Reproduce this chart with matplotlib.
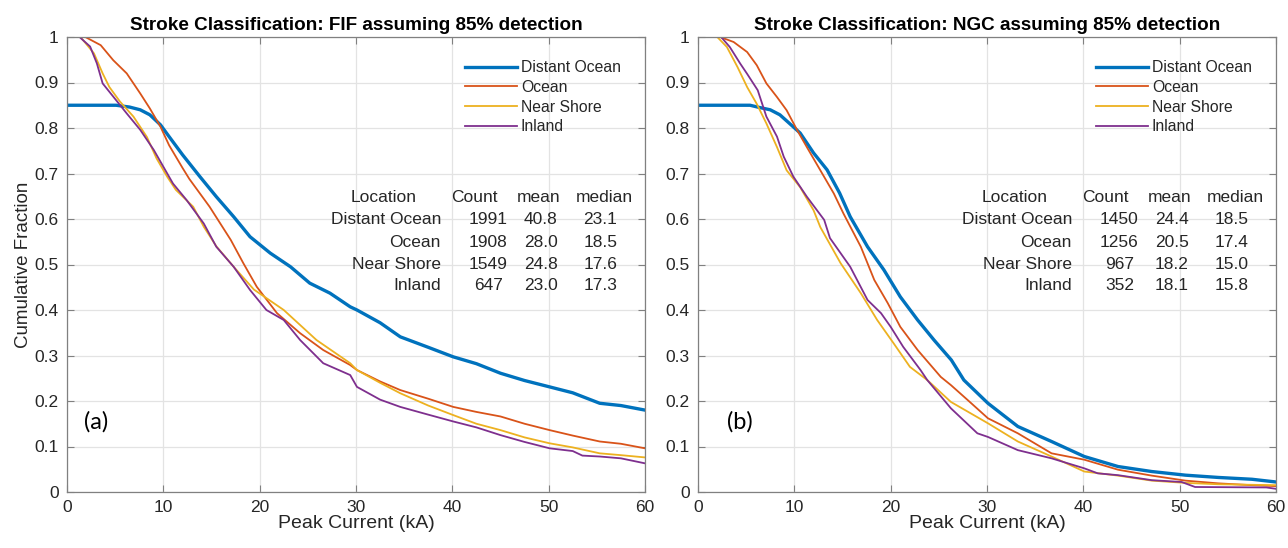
import matplotlib
matplotlib.use("Agg")
import matplotlib.pyplot as plt

plt.rcParams['font.family'] = ['Liberation Sans', 'DejaVu Sans']

series_names = ["Distant Ocean", "Ocean", "Near Shore", "Inland"]
series_colors = ["#0072BD", "#D95319", "#EDB120", "#7E2F8E"]
series_widths = [2.4, 1.3, 1.3, 1.3]

# ---- Panel (a): FIF ----
fif_do_x = [0, 5.1, 6.5, 7.6, 8.6, 9.7, 10.6, 12.0, 13.8, 15.5, 17.3, 19.0, 21.1, 23.2, 25.2, 27.3, 29.4,
            30.1, 32.5, 34.6, 37.5, 40.1, 42.5, 45.0, 47.5, 50.1, 52.5, 55.3, 57.5, 60]
fif_do_y = [0.85, 0.85, 0.846, 0.84, 0.829, 0.807, 0.781, 0.741, 0.693, 0.649, 0.605, 0.561, 0.525, 0.495, 0.459, 0.437, 0.407,
            0.40, 0.372, 0.341, 0.318, 0.297, 0.282, 0.261, 0.245, 0.231, 0.218, 0.195, 0.190, 0.18]

fif_oc_x = [0, 1.9, 3.5, 4.8, 6.2, 7.6, 8.6, 9.7, 10.6, 12.0, 12.7, 14.8, 17.0, 18.3, 19.7, 21.8, 24.2, 26.6, 29.4,
            30.1, 32.5, 34.6, 37.5, 40.1, 42.5, 45.0, 47.5, 50.1, 52.5, 55.3, 57.5, 60]
fif_oc_y = [1.0, 1.0, 0.982, 0.949, 0.92, 0.876, 0.843, 0.803, 0.762, 0.712, 0.688, 0.627, 0.554, 0.503, 0.451, 0.393, 0.349, 0.312, 0.279,
            0.268, 0.243, 0.224, 0.205, 0.187, 0.176, 0.166, 0.150, 0.136, 0.124, 0.111, 0.106, 0.096]

fif_ns_x = [0, 1.4, 2.8, 3.7, 4.4, 5.5, 6.9, 8.3, 9.3, 10.4, 11.3, 13.1, 14.2, 15.5, 17.3, 19.4, 22.5, 25.9, 29.4,
            30.1, 32.5, 34.6, 37.5, 40.1, 42.5, 45.0, 47.5, 50.1, 52.5, 55.3, 57.5, 60]
fif_ns_y = [1.0, 1.0, 0.964, 0.92, 0.89, 0.858, 0.825, 0.78, 0.733, 0.693, 0.664, 0.627, 0.583, 0.54, 0.495, 0.445, 0.40, 0.334, 0.283,
            0.268, 0.240, 0.217, 0.190, 0.169, 0.150, 0.136, 0.120, 0.107, 0.098, 0.085, 0.081, 0.076]

fif_in_x = [0, 1.3, 2.4, 3.1, 3.7, 4.8, 6.2, 7.6, 9.0, 10.0, 11.0, 12.4, 14.2, 15.5, 17.3, 19.0, 20.7, 22.5, 24.2, 26.6, 29.4,
            30.1, 32.5, 34.6, 37.5, 40.1, 42.5, 45.0, 47.5, 50.1, 52.5, 53.5, 55.3, 57.5, 60]
fif_in_y = [1.0, 1.0, 0.979, 0.942, 0.898, 0.869, 0.832, 0.796, 0.752, 0.715, 0.678, 0.642, 0.59, 0.539, 0.495, 0.444, 0.40, 0.378, 0.334, 0.283, 0.257,
            0.231, 0.203, 0.187, 0.170, 0.155, 0.142, 0.125, 0.110, 0.096, 0.090, 0.080, 0.078, 0.074, 0.063]

# ---- Panel (b): NGC ----
ngc_do_x = [0, 5.4, 6.4, 7.5, 8.5, 9.5, 10.6, 12.0, 13.4, 14.7, 15.8, 17.6, 19.3, 21.0, 22.8, 24.5, 26.3, 27.6,
            30.1, 33.2, 36.7, 40.1, 43.6, 47.1, 50.6, 54.0, 57.5, 60]
ngc_do_y = [0.85, 0.85, 0.845, 0.84, 0.829, 0.81, 0.789, 0.745, 0.708, 0.657, 0.605, 0.539, 0.488, 0.429, 0.378, 0.334, 0.29, 0.246,
            0.195, 0.144, 0.111, 0.078, 0.056, 0.045, 0.037, 0.032, 0.028, 0.022]

ngc_oc_x = [0, 2.3, 3.7, 5.1, 6.1, 7.1, 8.2, 9.2, 10.3, 11.3, 12.7, 14.1, 15.1, 16.9, 18.3, 19.7, 21.0, 22.8, 25.2, 26.25, 28.0,
            30.1, 33.2, 36.7, 40.1, 43.6, 47.1, 50.6, 54.0, 57.5, 60]
ngc_oc_y = [1.0, 1.0, 0.989, 0.967, 0.938, 0.898, 0.868, 0.839, 0.795, 0.758, 0.707, 0.656, 0.612, 0.539, 0.466, 0.415, 0.363, 0.312, 0.253, 0.235, 0.202,
            0.162, 0.129, 0.085, 0.071, 0.049, 0.036, 0.025, 0.019, 0.015, 0.013]

ngc_ns_x = [0, 2.0, 3.0, 4.1, 5.1, 6.1, 7.1, 8.2, 9.2, 10.6, 12.0, 12.7, 14.8, 16.9, 18.6, 20.3, 22.0, 23.8, 26.25,
            30.1, 33.2, 36.7, 40.1, 43.6, 47.1, 50.6, 54.0, 60]
ngc_ns_y = [1.0, 1.0, 0.978, 0.934, 0.89, 0.853, 0.81, 0.758, 0.707, 0.67, 0.619, 0.582, 0.503, 0.437, 0.378, 0.327, 0.275, 0.246, 0.198,
            0.151, 0.111, 0.078, 0.045, 0.036, 0.025, 0.020, 0.017, 0.015]

ngc_in_x = [0, 2.4, 3.3, 4.4, 5.1, 6.2, 7.1, 8.2, 8.9, 9.9, 11.3, 13.1, 13.7, 15.8, 17.6, 19.0, 20.0, 21.3, 23.1, 23.8, 26.25,
            29.0, 30.1, 33.2, 36.7, 40.1, 41.5, 43.6, 47.1, 50.2, 51.6, 59.0, 60]
ngc_in_y = [1.0, 1.0, 0.978, 0.941, 0.919, 0.883, 0.825, 0.781, 0.737, 0.693, 0.649, 0.598, 0.558, 0.495, 0.422, 0.393, 0.363, 0.319, 0.268, 0.246, 0.184,
            0.129, 0.121, 0.092, 0.074, 0.052, 0.041, 0.037, 0.026, 0.022, 0.011, 0.010, 0.007]

panels = [
    dict(title="Stroke Classification: FIF assuming 85% detection", tag="(a)",
         xs=[fif_do_x, fif_oc_x, fif_ns_x, fif_in_x], ys=[fif_do_y, fif_oc_y, fif_ns_y, fif_in_y]),
    dict(title="Stroke Classification: NGC assuming 85% detection", tag="(b)",
         xs=[ngc_do_x, ngc_oc_x, ngc_ns_x, ngc_in_x], ys=[ngc_do_y, ngc_oc_y, ngc_ns_y, ngc_in_y]),
]

table_header = ["Location", "Count", "mean", "median"]
fif_counts = ["1991", "1908", "1549", "647"]
fif_means = ["40.8", "28.0", "24.8", "23.0"]
fif_medians = ["23.1", "18.5", "17.6", "17.3"]
ngc_counts = ["1450", "1256", "967", "352"]
ngc_means = ["24.4", "20.5", "18.2", "18.1"]
ngc_medians = ["18.5", "17.4", "15.0", "15.8"]
tables = [(fif_counts, fif_means, fif_medians), (ngc_counts, ngc_means, ngc_medians)]

x_ticks = [0, 10, 20, 30, 40, 50, 60]
y_ticks = [0, 0.1, 0.2, 0.3, 0.4, 0.5, 0.6, 0.7, 0.8, 0.9, 1.0]
y_ticklabels = ["0", "0.1", "0.2", "0.3", "0.4", "0.5", "0.6", "0.7", "0.8", "0.9", "1"]

W, H = 1288, 548
fig = plt.figure(figsize=(W / 100, H / 100), dpi=100)
axes_px = [(67, 37, 578, 455), (698, 37, 578, 455)]

spine_col = "#808080"
text_col = "#262626"

for i, (p, (l, t, w, h)) in enumerate(zip(panels, axes_px)):
    ax = fig.add_axes([l / W, (H - t - h) / H, w / W, h / H])
    for name, col, lw, xs, ys in zip(series_names, series_colors, series_widths, p["xs"], p["ys"]):
        ax.plot(xs, ys, color=col, lw=lw, label=name, solid_joinstyle='round')
    ax.set_xlim(0, 60)
    ax.set_ylim(0, 1)
    ax.set_xticks(x_ticks)
    ax.set_yticks(y_ticks)
    ax.set_yticklabels(y_ticklabels)
    ax.grid(True, color="#e3e3e3", lw=0.9)
    ax.set_axisbelow(True)
    ax.tick_params(direction='in', length=5, width=0.8, color=spine_col, top=True, right=True,
                   labelsize=12.5, labelcolor=text_col, pad=6)
    for s in ax.spines.values():
        s.set_color(spine_col)
        s.set_linewidth(0.9)
    ax.set_title(p["title"], fontsize=13.6, fontweight='bold', color="black", pad=5)
    ax.set_xlabel("Peak Current (kA)", fontsize=14, color=text_col, labelpad=0)
    if i == 0:
        ax.set_ylabel("Cumulative Fraction", fontsize=13.5, color=text_col, labelpad=2)

    leg = ax.legend(loc='upper left', bbox_to_anchor=(0.689, 0.949), frameon=False,
                    fontsize=11.3, handlelength=3.3, handletextpad=0.25, labelspacing=0.3,
                    borderpad=0, borderaxespad=0)
    for txt in leg.get_texts():
        txt.set_color(text_col)

    # statistics table
    counts, means, medians = tables[i]
    row_y = [0.648, 0.600, 0.549, 0.501, 0.453]
    fs = 12.5
    ax.text(0.547, row_y[0], table_header[0], transform=ax.transAxes, ha='center', va='center', fontsize=fs, color=text_col)
    ax.text(0.705, row_y[0], table_header[1], transform=ax.transAxes, ha='center', va='center', fontsize=fs, color=text_col)
    ax.text(0.816, row_y[0], table_header[2], transform=ax.transAxes, ha='center', va='center', fontsize=fs, color=text_col)
    ax.text(0.930, row_y[0], table_header[3], transform=ax.transAxes, ha='center', va='center', fontsize=fs, color=text_col)
    for r, name in enumerate(series_names):
        yy = row_y[r + 1]
        ax.text(0.647, yy, name, transform=ax.transAxes, ha='right', va='center', fontsize=fs, color=text_col)
        ax.text(0.729, yy, counts[r], transform=ax.transAxes, ha='center', va='center', fontsize=fs, color=text_col)
        ax.text(0.820, yy, means[r], transform=ax.transAxes, ha='center', va='center', fontsize=fs, color=text_col)
        ax.text(0.923, yy, medians[r], transform=ax.transAxes, ha='center', va='center', fontsize=fs, color=text_col)

    ax.text(0.029 if i == 0 else 0.05, 0.155, p["tag"], transform=ax.transAxes, ha='left', va='center',
            fontsize=17, family=['Lato', 'DejaVu Sans'], color="black")

fig.savefig("out.png", dpi=100)
